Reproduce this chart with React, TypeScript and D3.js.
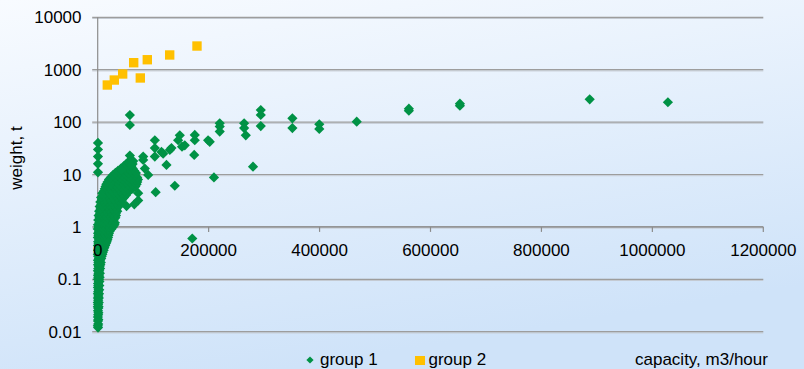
import React from "react";
import * as d3 from "d3";

const WIDTH = 804;
const HEIGHT = 369;

// Axis ticks
const yTickValues = [0.01, 0.1, 1, 10, 100, 1000, 10000];
const yTickLabels = ["0.01", "0.1", "1", "10", "100", "1000", "10000"];
const xTickValues = [0, 200000, 400000, 600000, 800000, 1000000, 1200000];
const xTickLabels = ["0", "200000", "400000", "600000", "800000", "1000000", "1200000"];

// group 2: capacity (m3/hour) and weight (t)
const group2Capacity = [17300, 29900, 45000, 64900, 76800, 89400, 129800, 179000];
const group2Weight = [510, 635, 828, 1360, 695, 1550, 1910, 2830];

// group 1: individually placed units [capacity, weight]
const group1Scattered: [number, number][] = [
  [500, 40], [500, 30], [500, 22], [500, 16], [500, 11],
  [58000, 136], [58000, 88], [58000, 23],
  [82000, 22], [82000, 19],
  [103000, 45], [103000, 32], [103000, 22],
  [115000, 27], [118000, 25],
  [133000, 32], [130000, 29.5],
  [148000, 56], [145000, 45], [152000, 34], [157000, 36],
  [175000, 57], [175000, 45],
  [199000, 45], [202000, 42],
  [220000, 95], [220000, 82], [220000, 66],
  [264000, 95], [264000, 77], [267000, 56],
  [294000, 170], [294000, 137], [294000, 84],
  [351000, 118], [351000, 77],
  [399500, 91], [399500, 74],
  [467000, 102],
  [561000, 165], [561000, 180],
  [653000, 205], [653000, 225],
  [887000, 272],
  [1028000, 239],
  [174000, 23.6],
  [124000, 15.2],
  [139000, 6.1],
  [104500, 4.6],
  [209600, 8.8],
  [280000, 14.1],
  [170500, 0.6],
  [91000, 9.8],
  [85000, 13],
  [73000, 4.4], [73000, 3.2], [66000, 2.7], [52000, 2.5],
  [64000, 18], [61000, 15.3],
  [43000, 12.2],
];

// group 1: the many small units, listed by weight (t) with their capacities
const group1ByWeight: [number, number[]][] = [
  [0.012, [600]],
  [0.013, [300]],
  [0.014, [900]],
  [0.016, [500]],
  [0.017, [1100]],
  [0.019, [400]],
  [0.021, [800]],
  [0.023, [1300]],
  [0.025, [500]],
  [0.028, [1000]],
  [0.03, [300, 1600]],
  [0.033, [700]],
  [0.036, [200, 1900]],
  [0.04, [900]],
  [0.044, [400, 2100]],
  [0.048, [1200]],
  [0.053, [300, 2400]],
  [0.058, [800]],
  [0.063, [1500, 2700]],
  [0.07, [400]],
  [0.076, [1100, 2900]],
  [0.083, [600]],
  [0.091, [1800, 3100]],
  [0.1, [300, 2400]],
  [0.11, [1000, 3500]],
  [0.12, [500, 2200]],
  [0.13, [1400, 3900]],
  [0.145, [300, 2800]],
  [0.16, [900, 4300]],
  [0.175, [1900, 3400]],
  [0.19, [500, 4800]],
  [0.21, [1300, 3000, 5600]],
  [0.23, [400, 4200]],
  [0.25, [2100, 6300]],
  [0.275, [800, 3600, 7200]],
  [0.3, [300, 5200, 8400]],
  [0.33, [1700, 3900, 9300]],
  [0.36, [600, 6400, 10800]],
  [0.4, [2500, 8600, 12100]],
  [0.44, [400, 4600, 10300, 13500]],
  [0.48, [1500, 7300, 14800]],
  [0.52, [700, 3800, 11600, 16200]],
  [0.57, [2200, 6900, 13400, 17500]],
  [0.63, [300, 4800, 9700, 15600, 18600]],
  [0.69, [1400, 8100, 12800, 19400]],
  [0.76, [600, 4100, 10500, 16900, 20300]],
  [0.83, [2300, 7200, 14100, 21500]],
  [0.91, [200, 5300, 11800, 18400, 24600]],
  [1.0, [1200, 6800, 13500, 20200, 27400]],
  [1.1, [400, 9600, 16800, 23900, 30200]],
  [1.2, [2800, 7400, 12600, 19500, 26300, 31000]],
  [1.35, [1000, 5600, 15200, 22700, 28900]],
  [1.5, [3300, 9800, 17600, 25100, 31800]],
  [1.65, [1600, 7200, 13400, 20900, 28300, 33000]],
  [1.8, [4400, 11100, 18200, 24700, 32600]],
  [2.0, [2600, 8300, 15500, 22100, 29400, 35200]],
  [2.2, [5100, 12600, 19300, 26800, 33700]],
  [2.45, [3500, 9400, 16700, 23500, 30900, 37600]],
  [2.7, [6300, 13900, 20400, 28200, 35100, 40300]],
  [3.0, [4700, 10500, 17800, 25600, 32400, 39000, 42800]],
  [3.3, [7600, 14600, 21300, 29500, 36800, 44100]],
  [3.65, [6100, 12300, 19400, 26700, 34200, 41500, 47300]],
  [4.0, [9800, 16500, 23900, 31200, 38700, 45800, 50900]],
  [4.4, [8200, 13700, 20800, 28400, 35900, 43600, 52700]],
  [4.85, [11500, 18300, 25600, 33100, 40700, 48200, 57400]],
  [5.35, [12800, 15900, 22700, 30300, 37400, 45100, 53800, 63200]],
  [5.9, [14200, 19900, 27500, 34800, 42600, 50300, 58700, 67900]],
  [6.5, [15600, 23400, 31100, 38900, 46400, 54500, 62300, 70100]],
  [7.2, [17800, 26100, 34700, 42900, 50600, 58800, 66200, 71300]],
  [8.0, [20300, 28700, 37300, 45500, 53900, 61700, 68400, 72600]],
  [8.8, [23600, 31800, 40200, 48700, 57100, 64500, 71200]],
  [9.7, [27400, 35600, 43800, 52100, 60300, 67800]],
  [10.7, [31900, 39400, 47600, 55800, 63200, 68900]],
  [11.8, [36500, 44100, 51700, 59400, 65800]],
  [13.0, [41800, 49300, 56900, 63100]],
  [14.3, [46700, 53200, 60500]],
  [15.8, [51400, 57600, 62900]],
  [17.4, [55200, 60800]],
];

const GREEN = "#009245";
const YELLOW = "#FFC000";
const FONT = "'Liberation Sans', Arial, sans-serif";

export default function App() {
  const x = d3.scaleLinear().domain([0, 1200000]).range([97.7, 763.3]);
  const y = d3.scaleLog().domain([0.01, 10000]).range([331.7, 17.3]);

  const group1: [number, number][] = [
    ...group1ByWeight.flatMap(([w, caps]) => caps.map((c) => [c, w] as [number, number])),
    ...group1Scattered,
  ];
  const group2 = group2Capacity.map((c, i) => [c, group2Weight[i]] as [number, number]);

  const diamondPath = d3.symbol(d3.symbolSquare, 52)() as string;
  const legendDiamond = d3.symbol(d3.symbolSquare, 26)() as string;
  const squarePath = d3.symbol(d3.symbolSquare, 88)() as string;

  const [x0, x1] = x.range();
  const xAxisY = y(1);

  return (
    <svg
      width={WIDTH}
      height={HEIGHT}
      style={{ position: "absolute", left: 0, top: 0, display: "block" }}
      fontFamily={FONT}
    >
      <defs>
        <linearGradient id="bg" x1="0" y1="0" x2="0.35" y2="1">
          <stop offset="0" stopColor="#f8fbff" />
          <stop offset="1" stopColor="#cfe3f9" />
        </linearGradient>
      </defs>
      <rect width={WIDTH} height={HEIGHT} fill="url(#bg)" />

      {/* horizontal gridlines */}
      {yTickValues.map((v) => (
        <g key={v}>
          <line x1={x0 - 5.5} x2={x1} y1={y(v) + 1.2} y2={y(v) + 1.2} stroke="#c4cad2" strokeWidth={1} />
          <line x1={x0 - 5.5} x2={x1} y1={y(v)} y2={y(v)} stroke="#9d9d9d" strokeWidth={1.2} />
        </g>
      ))}

      {/* vertical axis */}
      <line x1={x0} x2={x0} y1={y(10000)} y2={y(0.01)} stroke="#8c8c8c" strokeWidth={1.2} />

      {/* horizontal axis crossing at weight = 1 */}
      <line x1={x0} x2={x1} y1={xAxisY} y2={xAxisY} stroke="#8c8c8c" strokeWidth={1.2} />
      {xTickValues.map((v) => (
        <line key={v} x1={x(v)} x2={x(v)} y1={xAxisY} y2={xAxisY + 5} stroke="#8c8c8c" strokeWidth={1.2} />
      ))}

      {/* group 1 markers */}
      {group1.map(([c, w], i) => (
        <path
          key={"g1" + i}
          d={diamondPath}
          transform={`translate(${x(c)},${y(w)}) rotate(45)`}
          fill={GREEN}
        />
      ))}

      {/* group 2 markers */}
      {group2.map(([c, w], i) => (
        <path key={"g2" + i} d={squarePath} transform={`translate(${x(c)},${y(w)})`} fill={YELLOW} />
      ))}

      {/* tick labels */}
      {yTickValues.map((v, i) => (
        <text key={v} x={81.5} y={y(v) + 6} textAnchor="end" fontSize={17} fill="#000">
          {yTickLabels[i]}
        </text>
      ))}
      {xTickValues.map((v, i) => (
        <text key={v} x={x(v)} y={256} textAnchor="middle" fontSize={17} fill="#000">
          {xTickLabels[i]}
        </text>
      ))}

      {/* axis title */}
      <text
        transform={`translate(16.5,158) rotate(-90)`}
        textAnchor="middle"
        dominantBaseline="central"
        fontSize={17}
        fill="#000"
      >
        weight, t
      </text>

      {/* legend */}
      <path d={legendDiamond} transform="translate(310,360) rotate(45)" fill={GREEN} />
      <text x={320} y={365} fontSize={17} fill="#000">group 1</text>
      <rect x={415} y={356} width={10} height={9} fill={YELLOW} />
      <text x={428.5} y={365} fontSize={17} fill="#000">group 2</text>
      <text x={635} y={365} fontSize={17} fill="#000">capacity, m3/hour</text>
    </svg>
  );
}
